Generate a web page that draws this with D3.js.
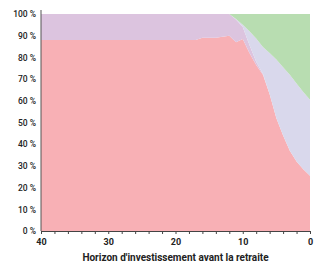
<!DOCTYPE html>
<html>
<head>
<meta charset="utf-8">
<script src="https://cdn.jsdelivr.net/npm/d3@7"></script>
<style>
  body { margin: 0; background: #fff; }
  text { font-family: Roboto, "Noto Sans", sans-serif; }
</style>
</head>
<body>
<div id="chart"></div>
<script>
// Years before retirement (40 -> 0)
const years = d3.range(40, -1, -1);

// Share of each layer, in %, per year (bottom to top)
const layerA = [88, 88, 88, 88, 88, 88, 88, 88, 88, 88,
                88, 88, 88, 88, 88, 88, 88, 88, 88, 88,
                88, 88, 88, 88, 89, 89, 89, 89.5, 90, 87,
                88.5, 82, 76.5, 72, 63, 52, 44, 37, 32, 28.5, 25.5];
const layerB = [12, 12, 12, 12, 12, 12, 12, 12, 12, 12,
                12, 12, 12, 12, 12, 12, 12, 12, 12, 12,
                12, 12, 12, 12, 11, 11, 11, 10.5, 10, 10.5,
                5.5, 3.7, 1.5, 0.5, 0, 0, 0, 0, 0, 0, 0];
const layerC = [0, 0, 0, 0, 0, 0, 0, 0, 0, 0,
                0, 0, 0, 0, 0, 0, 0, 0, 0, 0,
                0, 0, 0, 0, 0, 0, 0, 0, 0, 0.2,
                1, 6.3, 10.7, 12.3, 19, 27, 31.5, 35, 36, 35.5, 35];
const layerD = [0, 0, 0, 0, 0, 0, 0, 0, 0, 0,
                0, 0, 0, 0, 0, 0, 0, 0, 0, 0,
                0, 0, 0, 0, 0, 0, 0, 0, 0, 2.3,
                5, 8, 11.3, 15.2, 18, 21, 24.5, 28, 32, 36, 39.5];

const keys = ["a", "b", "c", "d"];
const colors = ["#f8b0b5", "#dcc4df", "#d9d8ec", "#b8ddb1"];

const yTicks = [0, 10, 20, 30, 40, 50, 60, 70, 80, 90, 100];
const xLabels = [40, 30, 20, 10, 0];

const margin = { top: 14, right: 5, bottom: 34, left: 41 };
const width = 315 - margin.left - margin.right;
const height = 265 - margin.top - margin.bottom;

const data = years.map((yr, i) => ({
  year: yr, a: layerA[i], b: layerB[i], c: layerC[i], d: layerD[i]
}));

const x = d3.scaleLinear().domain([40, 0]).range([0, width]);
const y = d3.scaleLinear().domain([0, 100]).range([height, 0]);

const svg = d3.select("#chart")
  .append("svg")
    .attr("width", 315)
    .attr("height", 265);

const g = svg.append("g")
    .attr("transform", `translate(${margin.left},${margin.top})`);

const series = d3.stack().keys(keys)(data);

const area = d3.area()
    .x(d => x(d.data.year))
    .y0(d => y(d[0]))
    .y1(d => y(d[1]));

g.selectAll("path.layer")
  .data(series)
  .join("path")
    .attr("class", "layer")
    .attr("fill", (d, i) => colors[i])
    .attr("d", area);

// Y axis: labels only, plus a plain line
const yAxis = g.append("g")
    .call(d3.axisLeft(y).tickValues(yTicks).tickSize(0).tickPadding(5)
      .tickFormat(d => d + " %"));
yAxis.select(".domain").remove();
yAxis.selectAll("text")
    .attr("fill", "#222")
    .style("font-size", "8.5px")
    .style("font-weight", "500");

g.append("line")
    .attr("x1", 0).attr("x2", 0)
    .attr("y1", y(0)).attr("y2", y(100) - 4)
    .attr("stroke", "#555")
    .attr("stroke-width", 1);

// X axis: ticks every 2 years, labels every 10
const xAxis = g.append("g")
    .attr("transform", `translate(0,${height})`)
    .call(d3.axisBottom(x).tickValues(d3.range(40, -1, -2)).tickSize(3)
      .tickSizeOuter(0)
      .tickFormat(d => xLabels.includes(d) ? d : ""));
xAxis.select(".domain").attr("stroke", "#444");
xAxis.selectAll(".tick line").attr("stroke", "#444");
xAxis.selectAll("text")
    .attr("fill", "#222")
    .attr("dy", "0.9em")
    .style("font-size", "9px")
    .style("font-weight", "bold");

// X label
g.append("text")
    .attr("x", width / 2)
    .attr("y", height + 30)
    .attr("text-anchor", "middle")
    .attr("fill", "#222")
    .style("font-size", "10px")
    .style("font-weight", "bold")
    .text("Horizon d'investissement avant la retraite");
</script>
</body>
</html>
